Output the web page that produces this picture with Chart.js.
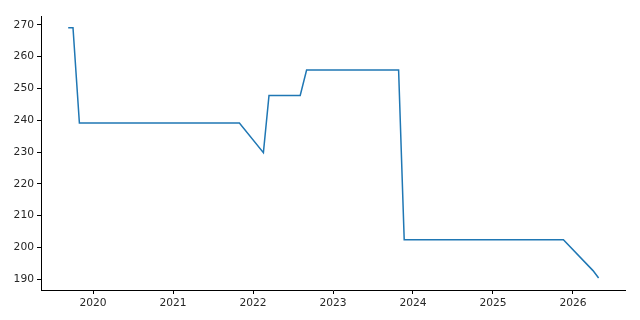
<!DOCTYPE html>
<html>
<head>
<meta charset="utf-8">
<script src="https://cdn.jsdelivr.net/npm/chart.js@4/dist/chart.umd.min.js"></script>
<style>
  html, body { margin: 0; padding: 0; background: #fff; }
  #wrap { width: 640px; height: 320px; }
</style>
</head>
<body>
<div id="wrap"><canvas id="chart" width="640" height="320"></canvas></div>
<script>
// dates as decimal years
const dates = [2019.69, 2019.75, 2019.83, 2021.83, 2022.13, 2022.2, 2022.59, 2022.67, 2023.82, 2023.89, 2025.88, 2026.25, 2026.32];
const values = [269.1, 269.1, 239.1, 239.1, 229.8, 247.8, 247.8, 255.8, 255.8, 202.4, 202.4, 192.7, 190.4];
const xTicks = [2020, 2021, 2022, 2023, 2024, 2025, 2026];
const yTicks = [190, 200, 210, 220, 230, 240, 250, 260, 270];

const FONT = { family: "'DejaVu Sans', sans-serif", size: 10.7 };
const INK = '#262626';

const axisBase = {
  type: 'linear',
  border: { display: true, color: '#000', width: 1 },
  grid: { drawOnChartArea: false, drawTicks: true, tickLength: 4, tickColor: '#000', tickWidth: 1 },
  ticks: { color: INK, font: FONT, padding: 3, autoSkip: false, maxRotation: 0 },
};

new Chart(document.getElementById('chart'), {
  type: 'line',
  data: {
    datasets: [{
      data: dates.map((d, i) => ({ x: d, y: values[i] })),
      borderColor: '#1f77b4',
      borderWidth: 1.5,
      pointRadius: 0,
      tension: 0,
      fill: false,
    }],
  },
  options: {
    responsive: false,
    animation: false,
    layout: { padding: { top: 16, right: 15, left: 0, bottom: 0 } },
    plugins: { legend: { display: false }, tooltip: { enabled: false } },
    scales: {
      x: {
        ...axisBase,
        min: 2019.35,
        max: 2026.65,
        afterBuildTicks: s => { s.ticks = xTicks.map(v => ({ value: v })); },
        afterFit: s => { s.height = 30; },
        ticks: { ...axisBase.ticks, callback: v => String(v) },
      },
      y: {
        ...axisBase,
        min: 186.6,
        max: 272.8,
        afterBuildTicks: s => { s.ticks = yTicks.map(v => ({ value: v })); },
        afterFit: s => { s.width = 41; },
      },
    },
  },
});
</script>
</body>
</html>
